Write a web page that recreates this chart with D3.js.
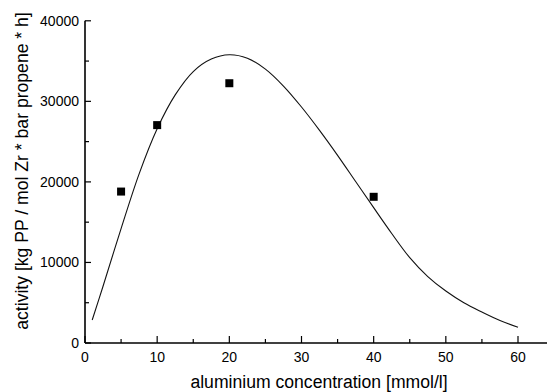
<!DOCTYPE html>
<html>
<head>
<meta charset="utf-8">
<script src="https://cdn.jsdelivr.net/npm/d3@7"></script>
<style>
  body { margin: 0; background: #fff; }
  svg { display: block; font-family: "Liberation Sans", Arial, sans-serif; }
</style>
</head>
<body>
<div id="chart"></div>
<script>
// measured points
const conc = [5, 10, 20, 40];
const activity = [18800, 27050, 32250, 18150];

// fitted curve
const fitX = [1, 2.5, 5, 7.5, 10, 12.5, 15, 17.5, 20, 22.5, 25, 27.5, 30, 32.5, 35, 37.5, 40, 42.5, 45, 47.5, 50, 52.5, 55, 57.5, 60];
const fitY = [2860, 7050, 14200, 21000, 26600, 30800, 33700, 35250, 35780, 35350, 34000, 31900, 29300, 26400, 23300, 20050, 16800, 13600, 10600, 8250, 6450, 5000, 3850, 2800, 1950];

const xTicks = [0, 10, 20, 30, 40, 50, 60];
const yTicks = [0, 10000, 20000, 30000, 40000];

const width = 547, height = 392;
const x = d3.scaleLinear().domain([0, 60]).range([85, 518]);
const y = d3.scaleLinear().domain([0, 40000]).range([343, 20.8]);

const svg = d3.select("#chart").append("svg")
  .attr("width", width)
  .attr("height", height);

// x axis
const xAxis = svg.append("g")
  .attr("transform", `translate(0,${y(0)})`);
xAxis.append("line")
  .attr("x1", x(0)).attr("x2", width)
  .attr("stroke", "#000").attr("stroke-width", 1.6);
xAxis.selectAll(".minor")
  .data(d3.range(5, 65, 10))
  .join("line")
  .attr("x1", d => x(d)).attr("x2", d => x(d))
  .attr("y1", 0).attr("y2", -4)
  .attr("stroke", "#000").attr("stroke-width", 1.2);
xAxis.selectAll(".major")
  .data(xTicks)
  .join("line")
  .attr("x1", d => x(d)).attr("x2", d => x(d))
  .attr("y1", 0).attr("y2", -7)
  .attr("stroke", "#000").attr("stroke-width", 1.2);
xAxis.selectAll("text")
  .data(xTicks)
  .join("text")
  .attr("x", d => x(d))
  .attr("y", 19)
  .attr("text-anchor", "middle")
  .attr("font-size", 14)
  .text(d => d);

// y axis
const yAxis = svg.append("g")
  .attr("transform", `translate(${x(0)},0)`);
yAxis.append("line")
  .attr("y1", y(0)).attr("y2", y(40000))
  .attr("stroke", "#000").attr("stroke-width", 1.6);
yAxis.selectAll(".minor")
  .data(d3.range(5000, 40000, 10000))
  .join("line")
  .attr("y1", d => y(d)).attr("y2", d => y(d))
  .attr("x1", 0).attr("x2", 4)
  .attr("stroke", "#000").attr("stroke-width", 1.2);
yAxis.selectAll(".major")
  .data(yTicks)
  .join("line")
  .attr("y1", d => y(d)).attr("y2", d => y(d))
  .attr("x1", 0).attr("x2", 6)
  .attr("stroke", "#000").attr("stroke-width", 1.2);
yAxis.selectAll("text")
  .data(yTicks)
  .join("text")
  .attr("x", -6)
  .attr("y", d => y(d))
  .attr("dy", "0.36em")
  .attr("text-anchor", "end")
  .attr("font-size", 14)
  .text(d => d);

// axis titles
svg.append("text")
  .attr("x", 319)
  .attr("y", 388)
  .attr("text-anchor", "middle")
  .attr("font-size", 17.6)
  .text("aluminium concentration [mmol/l]");

svg.append("text")
  .attr("transform", `translate(21.5,171) rotate(-90)`)
  .attr("dy", "0.35em")
  .attr("text-anchor", "middle")
  .attr("font-size", 17.6)
  .text("activity [kg PP / mol Zr * bar propene * h]");

// fitted curve
const line = d3.line()
  .x(d => x(d[0]))
  .y(d => y(d[1]))
  .curve(d3.curveCatmullRom);

svg.append("path")
  .datum(d3.zip(fitX, fitY))
  .attr("fill", "none")
  .attr("stroke", "#111")
  .attr("stroke-width", 1.1)
  .attr("d", line);

// data points
const s = 8;
svg.selectAll(".pt")
  .data(d3.zip(conc, activity))
  .join("rect")
  .attr("x", d => x(d[0]) - s / 2)
  .attr("y", d => y(d[1]) - s / 2)
  .attr("width", s)
  .attr("height", s)
  .attr("fill", "#000");
</script>
</body>
</html>
